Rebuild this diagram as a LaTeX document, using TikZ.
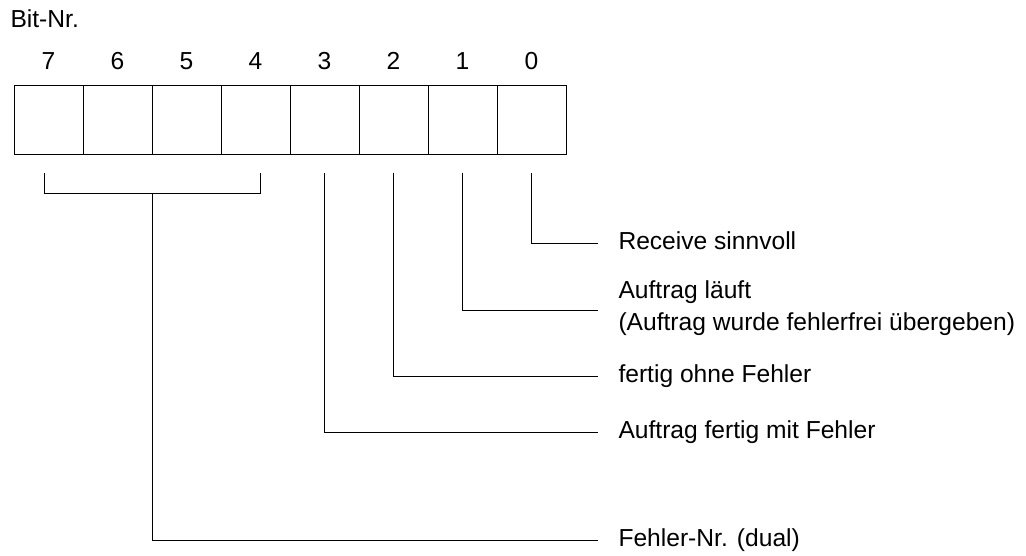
\documentclass[tikz,border=0pt]{standalone}
\usepackage{fontspec}
\setmainfont{Liberation Sans}
\begin{document}
\begin{tikzpicture}[x=1pt,y=-1pt,line width=1pt,
  bitbox/.style={draw,minimum width=69pt,minimum height=69pt,inner sep=0pt,outer sep=0pt},
  num/.style={font=\fontsize{24.6}{29}\selectfont,inner sep=0pt,anchor=base},
  lbl/.style={anchor=west,inner sep=0pt,font=\fontsize{24.6}{32}\selectfont,text height=18pt,text depth=5pt},
  lbltwo/.style={anchor=west,inner sep=0pt,font=\fontsize{24.6}{32}\selectfont,align=left},
  conn/.style={line width=1pt}]
\useasboundingbox (0,0) rectangle (1026,555);
\node[anchor=base west,inner sep=0pt,font=\fontsize{24.6}{29}\selectfont] (bitnr) at (10,27) {Bit-Nr.};
\foreach \i in {0,...,7}{
  \node[bitbox] (b\i) at ({48.5+(7-\i)*69},119.5) {};
  \node[num] (n\i) at ({48.5+(7-\i)*69},69) {\i};
}
\node[lbl] (l0) at (618,243) {Receive sinnvoll};
\node[lbltwo] (l1) at (618,308) {Auftrag läuft\\(Auftrag wurde fehlerfrei übergeben)};
\node[lbl] (l2) at (618,376) {fertig ohne Fehler};
\node[lbl] (l3) at (618,432) {Auftrag fertig mit Fehler};
\node[lbl] (l4) at (618,540) {Fehler-Nr. (dual)};
\draw[conn] ([yshift=-19pt]b0.south) |- ([xshift=-20pt]l0.west);
\draw[conn] ([yshift=-19pt]b1.south) |- ([xshift=-20pt,yshift=-2pt]l1.west);
\draw[conn] ([yshift=-19pt]b2.south) |- ([xshift=-20pt]l2.west);
\draw[conn] ([yshift=-19pt]b3.south) |- ([xshift=-20pt]l3.west);
\draw[conn] ([xshift=-4.5pt,yshift=-19pt]b7.south) |- ([xshift=4.5pt,yshift=-39pt]b4.south) -- ([xshift=4.5pt,yshift=-19pt]b4.south);
\coordinate (stem) at (152,193);
\draw[conn] (stem) |- ([xshift=-20pt]l4.west);
\end{tikzpicture}
\end{document}
